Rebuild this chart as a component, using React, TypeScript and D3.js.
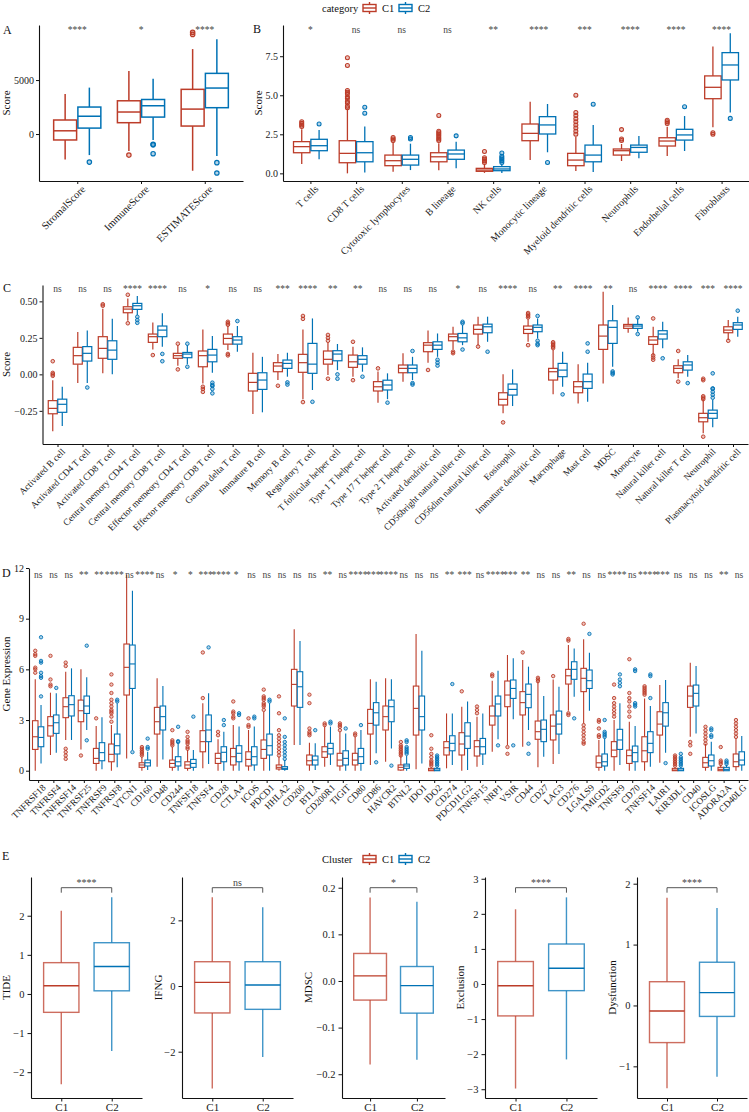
import React, { useRef, useEffect } from 'react'
import * as d3 from 'd3'

const RED = '#BC3C29'
const BLUE = '#0072B5'
const FONT = '"Liberation Serif", "Times New Roman", serif'

// ---------- panel A ----------
const aCats = ['StromalScore', 'ImmuneScore', 'ESTIMATEScore']
const aSig = ['****', '*', '****']
const aC1 = [[-2350, -550, 300, 1300, 3700], [-1570, 1050, 2040, 3080, 5850], [-3400, 740, 2310, 4140, 7870]]
const aC2 = [[-1950, 550, 1650, 2500, 4300], [-560, 1570, 2620, 3200, 5120], [-2040, 2440, 4260, 5620, 8770]]
const aOut1 = [[], [-1950], [9420, 9230]]
const aOut2 = [[-2600], [-950, -1000, -1820], [-2650, -3610]]
const aTicks = [0, 5000]

// ---------- panel B ----------
const bCats = ['T cells', 'CD8 T cells', 'Cytotoxic lymphocytes', 'B lineage', 'NK cells', 'Monocytic lineage',
  'Myeloid dendritic cells', 'Neutrophils', 'Endothelial cells', 'Fibroblasts']
const bSig = ['*', 'ns', 'ns', 'ns', '**', '****', '***', '****', '****', '****']
const bC1 = [[0.6, 1.32, 1.71, 2.03, 2.82], [0.0, 0.68, 1.28, 2.09, 4.1], [0.1, 0.49, 0.81, 1.17, 2.0],
  [0.2, 0.74, 1.06, 1.32, 1.92], [0.03, 0.13, 0.21, 0.32, 0.6], [0.85, 2.09, 2.56, 3.16, 4.59],
  [0.15, 0.49, 0.85, 1.28, 2.35], [0.79, 1.17, 1.45, 1.56, 1.88], [1.11, 1.75, 2.07, 2.28, 2.99],
  [2.95, 4.78, 5.51, 6.24, 8.12]]
const bC2 = [[0.9, 1.45, 1.77, 2.18, 2.78], [0.06, 0.74, 1.32, 2.03, 3.0], [0.21, 0.53, 0.9, 1.17, 1.9],
  [0.32, 0.9, 1.24, 1.49, 2.03], [0.02, 0.17, 0.28, 0.43, 0.55], [1.35, 2.52, 3.1, 3.63, 4.44],
  [0.08, 0.74, 1.17, 1.81, 3.1], [0.96, 1.35, 1.66, 1.81, 2.39], [1.43, 2.13, 2.46, 2.82, 3.67],
  [3.9, 5.98, 6.94, 7.73, 8.97]]
const bOut1 = [[3.0, 3.1, 3.2, 3.3], [4.2, 4.3, 4.5, 4.6, 4.8, 4.9, 5.1, 5.2, 5.3, 6.9, 7.4], [2.1, 2.2, 2.3],
  [2.1, 2.2, 2.3, 2.4, 2.5, 2.6, 2.7, 3.7], [0.7, 0.8, 0.9, 1.0, 1.4], [],
  [2.5, 2.7, 2.9, 3.1, 3.3, 3.5, 3.7, 3.9, 5.0], [2.1, 2.2, 2.8], [3.2, 3.3, 3.4], [2.5, 2.6]]
const bOut2 = [[3.16], [3.85, 4.23], [2.2, 2.3], [2.4], [0.7, 0.8, 0.9, 1.0, 1.1, 1.3], [0.7], [4.42], [], [4.27], [3.52]]
const bTicks = [0, 2.5, 5, 7.5]

// ---------- panel C ----------
const cCats = ['Activated B cell', 'Activated CD4 T cell', 'Activated CD8 T cell', 'Central memory CD4 T cell',
  'Central memory CD8 T cell', 'Effector memeory CD4 T cell', 'Effector memeory CD8 T cell', 'Gamma delta T cell',
  'Immature  B cell', 'Memory B cell', 'Regulatory T cell', 'T follicular helper cell', 'Type 1 T helper cell',
  'Type 17 T helper cell', 'Type 2 T helper cell', 'Activated dendritic cell', 'CD56bright natural killer cell',
  'CD56dim natural killer cell', 'Eosinophil', 'Immature dendritic cell', 'Macrophage', 'Mast cell', 'MDSC',
  'Monocyte', 'Natural killer cell', 'Natural killer T cell', 'Neutrophil', 'Plasmacytoid dendritic cell']
const cSig = ['ns', 'ns', 'ns', '****', '****', 'ns', '*', 'ns', 'ns', '***', '****', '**', '**', 'ns', 'ns', 'ns',
  '*', 'ns', '****', 'ns', '**', '****', '**', 'ns', '****', '****', '***', '****']
const cC1 = [[-0.39, -0.27, -0.233, -0.18, -0.04], [-0.06, 0.07, 0.128, 0.185, 0.29], [0.007, 0.11, 0.178, 0.258, 0.45],
  [0.367, 0.422, 0.447, 0.463, 0.52], [0.171, 0.219, 0.258, 0.276, 0.356], [0.059, 0.11, 0.128, 0.144, 0.2],
  [-0.062, 0.052, 0.128, 0.16, 0.308], [0.166, 0.207, 0.246, 0.276, 0.331], [-0.272, -0.114, -0.055, 0.007, 0.148],
  [-0.039, 0.018, 0.057, 0.08, 0.139], [-0.17, 0.014, 0.08, 0.137, 0.308], [-0.005, 0.07, 0.103, 0.16, 0.217],
  [-0.016, 0.048, 0.086, 0.132, 0.189], [-0.194, -0.114, -0.085, -0.05, 0.02], [-0.05, 0.011, 0.041, 0.064, 0.144],
  [0.08, 0.155, 0.2, 0.217, 0.3], [0.171, 0.23, 0.258, 0.276, 0.326], [0.2, 0.276, 0.308, 0.338, 0.395],
  [-0.267, -0.21, -0.171, -0.126, 0.0], [0.223, 0.28, 0.308, 0.331, 0.377], [-0.137, -0.039, 0.018, 0.041, 0.166],
  [-0.2, -0.126, -0.085, -0.05, 0.07], [-0.062, 0.171, 0.262, 0.338, 0.566], [0.285, 0.315, 0.331, 0.342, 0.39],
  [0.132, 0.205, 0.235, 0.258, 0.326], [-0.027, 0.011, 0.041, 0.059, 0.103], [-0.404, -0.325, -0.297, -0.267, -0.176],
  [0.235, 0.285, 0.303, 0.326, 0.372]]
const cC2 = [[-0.354, -0.26, -0.205, -0.17, -0.085], [-0.06, 0.091, 0.144, 0.19, 0.3], [0.0, 0.103, 0.166, 0.23, 0.38],
  [0.406, 0.445, 0.47, 0.486, 0.536], [0.189, 0.258, 0.303, 0.331, 0.418], [0.07, 0.114, 0.139, 0.15, 0.2],
  [0.011, 0.086, 0.132, 0.171, 0.262], [0.155, 0.207, 0.235, 0.258, 0.331], [-0.26, -0.103, -0.039, 0.011, 0.12],
  [-0.016, 0.041, 0.075, 0.098, 0.148], [-0.107, 0.007, 0.07, 0.212, 0.383], [0.029, 0.093, 0.139, 0.162, 0.208],
  [0.018, 0.07, 0.103, 0.128, 0.185], [-0.17, -0.107, -0.073, -0.04, 0.007], [-0.039, 0.011, 0.041, 0.064, 0.12],
  [0.12, 0.171, 0.2, 0.223, 0.28], [0.2, 0.223, 0.25, 0.28, 0.338], [0.223, 0.285, 0.326, 0.344, 0.395],
  [-0.217, -0.142, -0.103, -0.066, 0.034], [0.246, 0.292, 0.322, 0.338, 0.383], [-0.085, -0.016, 0.029, 0.075, 0.155],
  [-0.188, -0.096, -0.05, 0.002, 0.08], [0.052, 0.212, 0.322, 0.367, 0.475], [0.292, 0.315, 0.331, 0.342, 0.383],
  [0.178, 0.242, 0.276, 0.299, 0.36], [-0.016, 0.029, 0.064, 0.086, 0.132], [-0.363, -0.301, -0.267, -0.245, -0.176],
  [0.258, 0.308, 0.338, 0.354, 0.395]]
const cOut1 = [[0.09, 0.01, 0.0, -0.01], [], [0.47, 0.48], [0.545, 0.35], [0.132], [0.21, 0.034], [-0.085, -0.1, -0.12],
  [0.34, 0.35, 0.36, 0.14, 0.13], [], [-0.078], [0.38, 0.4, -0.19], [0.23, 0.25, 0.27, -0.03], [0.223, -0.04], [0.041],
  [], [0.03], [0.155, 0.145], [0.19], [-0.329], [0.42, 0.41, 0.4, 0.39, 0.2], [0.22, 0.21, 0.2, 0.19, 0.18], [], [],
  [], [0.383, 0.13, 0.115, 0.1], [0.16, -0.05], [-0.15, -0.16, -0.17, -0.427, -0.03, -0.04], [0.23]]
const cOut2 = [[], [-0.09], [], [0.394, 0.372, 0.353], [0.14, 0.09], [0.21, 0.052], [-0.057, -0.073, -0.08, -0.1, -0.13],
  [0.365], [], [-0.055, -0.07], [-0.188], [0.0, -0.03], [-0.016], [-0.194], [0.16, -0.06, -0.07], [0.1, 0.08, 0.06],
  [0.35, 0.36, 0.17], [0.155], [], [0.4, 0.23, 0.21, 0.2], [-0.137], [0.212, 0.155], [0.02, 0.01, 0.0], [0.39, 0.276],
  [0.11], [-0.06], [-0.1, -0.12, -0.14, -0.16, 0.007, -0.096], [0.436]]
const cTicks = [-0.25, 0, 0.25, 0.5]

// ---------- panel D ----------
const dGenes = ['TNFRSF18', 'TNFRSF4', 'TNFRSF14', 'TNFRSF25', 'TNFRSF9', 'TNFRSF8', 'VTCN1', 'CD160', 'CD48', 'CD244',
  'TNFSF18', 'TNFSF4', 'CD28', 'CTLA4', 'ICOS', 'PDCD1', 'HHLA2', 'CD200', 'BTLA', 'CD200R1', 'TIGIT', 'CD80', 'CD86',
  'HAVCR2', 'BTNL2', 'IDO1', 'IDO2', 'CD274', 'PDCD1LG2', 'TNFSF15', 'NRP1', 'VSIR', 'CD44', 'CD27', 'LAG3', 'CD276',
  'LGALS9', 'TMIGD2', 'TNFSF9', 'CD70', 'TNFSF14', 'LAIR1', 'KIR3DL1', 'CD40', 'ICOSLG', 'ADORA2A', 'CD40LG']
const dSig = ['ns', 'ns', 'ns', '**', '**', '****', 'ns', '****', 'ns', '*', '*', '***', '****', '*', 'ns', 'ns', 'ns',
  'ns', 'ns', '**', 'ns', '****', '***', '****', 'ns', 'ns', 'ns', '**', '***', 'ns', '****', '***', '**', 'ns', 'ns',
  '**', 'ns', 'ns', '****', 'ns', '****', '***', 'ns', 'ns', 'ns', '**', 'ns']
const dC1 = [[0, 1.26, 2.01, 2.96, 5.41], [0.93, 2.05, 2.66, 3.2, 4.62], [1.82, 3.14, 3.79, 4.32, 5.86],
  [1.26, 2.9, 3.55, 4.18, 6.0], [0, 0.43, 0.73, 1.32, 2.64], [0, 0.53, 0.97, 1.58, 2.7], [0.73, 4.48, 6.12, 7.5, 11.6],
  [0, 0.2, 0.34, 0.47, 0.83], [0.24, 2.17, 2.9, 3.75, 5.47], [0, 0.2, 0.43, 0.63, 1.42], [0, 0.14, 0.34, 0.53, 1.22],
  [0.14, 1.12, 1.72, 2.37, 3.99], [0, 0.43, 0.73, 1.03, 1.86], [0, 0.34, 0.83, 1.32, 2.7], [0, 0.28, 0.67, 1.12, 2.41],
  [0, 0.73, 1.26, 1.82, 3.49], [0, 0.1, 0.2, 0.34, 0.83], [1.52, 3.83, 5.11, 6.0, 8.37], [0, 0.34, 0.59, 0.93, 1.66],
  [0.24, 0.79, 1.12, 1.42, 2.61], [0, 0.28, 0.63, 1.03, 2.31], [0, 0.34, 0.63, 1.03, 2.01], [0.34, 2.17, 2.8, 3.63, 5.41],
  [0.53, 2.41, 3.2, 3.83, 5.47], [0, 0.04, 0.2, 0.34, 0.87], [0.08, 2.11, 3.69, 5.01, 8.09], [0, 0, 0.04, 0.14, 0.2],
  [0.14, 0.93, 1.36, 1.72, 3.39], [0, 0.93, 1.58, 2.25, 3.79], [0.24, 0.87, 1.42, 1.78, 3.2], [1.12, 2.7, 3.24, 3.83, 5.33],
  [1.52, 3.79, 4.48, 5.31, 6.85], [1.42, 3.3, 4.03, 4.68, 6.55], [0.2, 1.86, 2.31, 2.94, 5.27], [0.39, 1.82, 2.64, 3.3, 5.4],
  [3.55, 5.13, 5.62, 6.0, 7.44], [2.8, 4.68, 5.47, 6.06, 7.78], [0, 0.2, 0.47, 0.87, 1.82], [0, 0.83, 1.22, 1.72, 3.0],
  [0, 0.43, 0.89, 1.22, 2.9], [0, 0.53, 1.18, 2.01, 4.28], [0.47, 2.11, 2.76, 3.49, 5.07], [0, 0, 0.04, 0.14, 0.2],
  [2.01, 3.75, 4.42, 5.01, 6.39], [0, 0.2, 0.47, 0.79, 1.58], [0, 0, 0.08, 0.2, 0.34], [0, 0.24, 0.53, 0.99, 1.91]]
const dC2 = [[0.43, 1.42, 1.97, 2.6, 3.89], [1.07, 2.21, 2.84, 3.3, 4.58], [1.82, 3.24, 3.91, 4.44, 6.06],
  [2.41, 3.39, 3.83, 4.42, 5.53], [0.08, 0.59, 1.07, 1.66, 3.16], [0.2, 0.99, 1.48, 2.17, 3.99], [1.22, 4.87, 6.32, 7.44, 10.66],
  [0.04, 0.28, 0.47, 0.63, 1.12], [0.67, 2.41, 3.2, 3.83, 5.01], [0, 0.28, 0.53, 0.83, 1.62], [0, 0.2, 0.43, 0.67, 1.22],
  [0.39, 1.72, 2.41, 3.3, 4.58], [0, 0.53, 1.09, 1.42, 2.31], [0, 0.53, 1.03, 1.48, 2.61], [0, 0.34, 0.83, 1.42, 2.61],
  [0, 0.93, 1.48, 2.17, 4.0], [0, 0.08, 0.14, 0.24, 0.63], [1.52, 3.75, 4.97, 5.86, 7.68], [0.04, 0.34, 0.63, 0.87, 1.62],
  [0.34, 0.99, 1.32, 1.62, 2.61], [0, 0.34, 0.73, 1.18, 2.21], [0, 0.43, 0.83, 1.32, 2.41], [1.03, 2.7, 3.43, 4.03, 5.27],
  [1.32, 2.9, 3.79, 4.18, 5.41], [0, 0.14, 0.28, 0.39, 0.87], [0.43, 2.41, 3.2, 4.42, 7.1], [0, 0, 0.04, 0.14, 0.24],
  [0.34, 1.18, 1.62, 2.07, 3.39], [0.04, 1.32, 2.05, 2.84, 4.09], [0.34, 0.99, 1.42, 1.91, 3.39], [1.86, 3.24, 3.95, 4.42, 5.92],
  [3.04, 4.28, 4.87, 5.37, 6.65], [2.41, 3.73, 4.52, 5.13, 6.16], [0.83, 1.72, 2.45, 3.0, 4.42], [0.99, 2.17, 2.76, 3.53, 4.97],
  [4.38, 5.41, 6.0, 6.45, 7.24], [3.55, 4.87, 5.33, 5.96, 6.99], [0, 0.28, 0.53, 0.99, 1.91], [0.34, 1.26, 1.82, 2.45, 3.99],
  [0, 0.53, 1.07, 1.46, 2.64], [0.24, 1.07, 1.62, 2.31, 3.83], [1.07, 2.64, 3.43, 4.03, 5.37], [0, 0, 0.04, 0.14, 0.24],
  [2.21, 3.83, 4.58, 5.07, 6.2], [0, 0.28, 0.59, 0.93, 1.72], [0, 0, 0.08, 0.2, 0.34], [0, 0.34, 0.63, 1.12, 2.05]]
const dOut1 = [[5.8, 6.0, 6.1, 6.8, 6.9, 7.1], [5.0, 5.1, 5.4, 6.8], [6.2, 6.4, 1.3, 1.1, 0.9, 0.7], [0.9], [3.1],
  [2.9, 3.2, 3.4, 3.5, 3.6, 3.8, 4.0, 4.2, 4.6, 5.1, 5.7], [], [0.9, 1.0, 1.1, 1.2, 1.3, 1.4], [], [1.5, 1.6, 1.7, 1.8, 2.4],
  [1.3, 1.4, 1.6, 1.7, 1.8, 2.0, 2.3], [4.3, 7.0], [2.1, 2.3], [3.1, 3.2, 3.4, 3.5, 4.1], [2.6, 2.7, 3.1],
  [3.6, 3.8, 3.9, 4.0, 4.2, 4.3, 4.4, 4.8], [0.9, 1.1, 1.3, 1.5, 1.7, 1.9, 2.1, 2.4, 3.4, 4.4], [], [2.1, 2.2, 2.3, 2.5, 4.0, 4.5],
  [2.7, 2.8], [2.4, 2.6, 2.7, 2.8], [2.1, 2.2], [], [], [0.9, 1.0, 1.1, 1.2, 1.3, 1.4, 1.5, 1.7], [],
  [0.3, 0.4, 0.5, 0.6, 0.8, 1.0, 1.3, 2.1], [], [4.7], [3.4, 3.6, 3.8], [5.6, 5.7], [1.4, 1.0], [7.0], [5.3, 5.4, 5.5], [5.6],
  [7.7, 7.8, 3.3, 3.4], [8.7, 2.7, 2.5, 2.3, 2.1, 1.9, 1.7, 1.6], [2.0, 2.1, 2.5, 2.9, 3.0], [3.2, 3.4, 3.6, 3.8, 4.0, 4.3, 5.1],
  [3.2, 3.5, 3.8, 4.1, 4.3, 4.6, 6.6], [4.5, 4.6, 4.7, 4.8, 4.9, 5.0], [], [0.3, 0.4, 0.5, 0.6, 0.7, 0.8, 0.9], [1.7, 1.5, 1.0],
  [1.6, 1.8, 2.0, 2.2, 2.4, 2.6], [0.4, 0.5, 0.6, 1.4], [2.0, 2.2, 2.4, 2.6, 2.8, 3.0]]
const dOut2 = [[4.4, 5.5, 5.6, 5.8, 6.4, 6.5, 7.9], [4.9], [], [7.4, 1.8], [], [4.1, 4.2], [1.1], [1.3, 1.4, 1.9], [],
  [1.7, 1.75, 2.6], [3.2], [7.3], [2.7, 3.0], [3.3, 3.4], [3.1, 3.2], [4.1, 4.2], [0.7, 0.9, 1.1, 1.3, 1.5, 1.7, 2.0, 3.1], [],
  [2.4], [2.8, 2.9], [2.5], [2.7], [0.5], [0.3], [1.0, 1.1, 1.2, 1.3, 1.4, 1.7, 1.8], [], [0.3, 0.4, 0.5, 0.6, 0.7, 0.8, 0.9],
  [5.13], [], [], [1.5], [1.5], [1.6, 1.0], [], [], [3.1], [8.1], [2.0, 2.1, 2.2, 2.3, 3.0], [5.0, 5.2, 5.4, 5.7],
  [3.8, 3.9, 4.0, 5.9, 6.0], [4.3, 5.6, 5.7], [0.45], [0.3, 0.4, 0.5, 0.6, 0.7, 0.8, 1.0], [], [2.0, 2.1, 2.4, 2.5],
  [0.4, 0.5, 0.6], []]
const dTicks = [0, 3, 6, 9, 12]

// ---------- panel E ----------
const eGroups = ['C1', 'C2']
const eTitles = ['TIDE', 'IFNG', 'MDSC', 'Exclusion', 'Dysfunction']
const eSig = ['****', 'ns', '*', '****', '****']
const eC1 = [[-2.31, -0.47, 0.21, 0.8, 2.13], [-3.12, -0.82, 0.11, 0.74, 2.7], [-0.179, -0.041, 0.011, 0.059, 0.179],
  [-2.98, -0.91, -0.05, 0.64, 2.13], [-1.36, -0.61, -0.09, 0.39, 1.77]]
const eC2 = [[-1.46, 0.08, 0.7, 1.31, 2.47], [-2.16, -0.71, 0.03, 0.74, 2.4], [-0.169, -0.069, -0.01, 0.031, 0.17],
  [-2.15, -0.19, 0.45, 1.14, 2.47], [-1.17, -0.18, 0.21, 0.71, 1.6]]
const eTicks = [[-2, -1, 0, 1, 2], [-2, 0, 2], [-0.2, -0.1, 0, 0.1, 0.2], [-3, -2, -1, 0, 1, 2, 3], [-1, 0, 1, 2]]

// scale settings for E panels
const eAxes = [
  { ax: 31, right: 142, domain: [-2.66, 2.99], fmt: d3.format('d'), tx: 10 },
  { ax: 182, right: 293, domain: [-3.41, 3.32], fmt: d3.format('d'), tx: 161.5 },
  { ax: 342, right: 445, domain: [-0.251, 0.223], fmt: d3.format('.1f'), tx: 312 },
  { ax: 485, right: 597, domain: [-3.25, 3.05], fmt: d3.format('d'), tx: 464 },
  { ax: 637, right: 747, domain: [-1.52, 2.11], fmt: d3.format('d'), tx: 615.5 },
]

function styleAxis(g: any, size: number) {
  g.attr('font-family', FONT)
  g.selectAll('text').attr('fill', '#1a1a1a').attr('font-size', size)
  g.select('.domain').attr('stroke', '#111').attr('stroke-width', 1.1)
  g.selectAll('.tick line').attr('stroke', '#111').attr('stroke-width', 1)
}

function Box({ cx, w, s, out, y, color, lw, r, op = 1 }: any) {
  const [lo, q1, md, q3, hi] = s
  return (
    <g stroke={color} strokeWidth={lw} fill="none">
      <g strokeOpacity={op}>
        <line x1={cx} x2={cx} y1={y(hi)} y2={y(q3)} />
        <line x1={cx} x2={cx} y1={y(q1)} y2={y(lo)} />
        <rect x={cx - w / 2} y={y(q3)} width={w} height={Math.max(0.5, y(q1) - y(q3))} fill="white" />
      </g>
      <line x1={cx - w / 2} x2={cx + w / 2} y1={y(md)} y2={y(md)} />
      {out.map((v: number, i: number) => (
        <circle key={i} cx={cx} cy={y(v)} r={r} fill={color} fillOpacity={0.3} strokeWidth={lw * 0.8} />
      ))}
    </g>
  )
}

function BoxPanel(p: any) {
  const xRef = useRef<SVGGElement>(null)
  const yRef = useRef<SVGGElement>(null)
  const x = d3.scalePoint<string>().domain(p.cats).range([p.x0, p.x1]).padding(0.6)
  const y = d3.scaleLinear().domain(p.domain).range([p.bottom, p.top])
  const step = x.step()
  const off = step * 0.19
  const bw = step * 0.36

  useEffect(() => {
    const gy = d3.select(yRef.current)
    gy.call(d3.axisLeft(y).tickValues(p.ticks).tickFormat(p.fmt).tickSize(3).tickSizeOuter(0).tickPadding(2) as any)
    styleAxis(gy, 10)
    const gx = d3.select(xRef.current)
    gx.call(d3.axisBottom(x).tickSize(3).tickSizeOuter(0) as any)
    styleAxis(gx, p.labelSize)
    gx.selectAll('text').attr('x', 0).attr('y', 0).attr('dy', '0.72em')
      .attr('transform', 'translate(3,3.5) rotate(-45)').style('text-anchor', 'end')
  }, [])

  const midY = (p.top + p.bottom) / 2
  return (
    <g>
      {p.cats.map((c: string, i: number) => {
        const cx = x(c) as number
        return (
          <g key={c}>
            <Box cx={cx - off} w={bw} s={p.c1[i]} out={p.out1[i]} y={y} color={RED} lw={p.lw} r={p.r} />
            <Box cx={cx + off} w={bw} s={p.c2[i]} out={p.out2[i]} y={y} color={BLUE} lw={p.lw} r={p.r} />
            <text x={cx} y={p.sigY} textAnchor="middle" fontSize={9.5} fontFamily={FONT} fill="#444">{p.sig[i]}</text>
          </g>
        )
      })}
      <g ref={yRef} transform={`translate(${p.x0},0)`} />
      <g ref={xRef} transform={`translate(0,${p.bottom})`} />
      <text transform={`translate(${p.titleX},${midY}) rotate(-90)`} textAnchor="middle" fontSize={11}
        fontFamily={FONT} fill="#111">{p.title}</text>
      <text x={p.letter[0]} y={p.letter[1]} fontSize={12} fontFamily={FONT} fill="#111">{p.letter[2]}</text>
    </g>
  )
}

function EPanel({ i }: { i: number }) {
  const xRef = useRef<SVGGElement>(null)
  const yRef = useRef<SVGGElement>(null)
  const cfg = eAxes[i]
  const top = 877, bottom = 1098
  const x = d3.scalePoint<string>().domain(eGroups).range([cfg.ax, cfg.right]).padding(0.6)
  const y = d3.scaleLinear().domain(cfg.domain).range([bottom, top])
  const bw = x.step() * 0.7

  useEffect(() => {
    const gy = d3.select(yRef.current)
    gy.call(d3.axisLeft(y).tickValues(eTicks[i]).tickFormat(cfg.fmt as any).tickSize(3.5).tickSizeOuter(0).tickPadding(3) as any)
    styleAxis(gy, 10.5)
    const gx = d3.select(xRef.current)
    gx.call(d3.axisBottom(x).tickSize(3.5).tickSizeOuter(0).tickPadding(2) as any)
    styleAxis(gx, 11)
  }, [])

  const x1 = x('C1') as number, x2 = x('C2') as number
  const by = 887.7
  return (
    <g>
      <Box cx={x1} w={bw} s={eC1[i]} out={[]} y={y} color={RED} lw={1.4} r={2} op={0.75} />
      <Box cx={x2} w={bw} s={eC2[i]} out={[]} y={y} color={BLUE} lw={1.4} r={2} op={0.75} />
      <path d={`M${x1},${by + 5}V${by}H${x2}V${by + 5}`} fill="none" stroke="#555" strokeWidth={1} />
      <text x={(x1 + x2) / 2} y={by - 2} textAnchor="middle" fontSize={10} fontFamily={FONT} fill="#444">{eSig[i]}</text>
      <g ref={yRef} transform={`translate(${cfg.ax},0)`} />
      <g ref={xRef} transform={`translate(0,${bottom})`} />
      <text transform={`translate(${cfg.tx},${(top + bottom) / 2}) rotate(-90)`} textAnchor="middle" fontSize={11}
        fontFamily={FONT} fill="#111">{eTitles[i]}</text>
    </g>
  )
}

function LegendIcon({ x, y, color }: any) {
  return (
    <g stroke={color} strokeWidth={1.4} fill="white">
      <line x1={x + 6.5} x2={x + 6.5} y1={y} y2={y + 12} />
      <rect x={x} y={y + 2.5} width={13} height={7} />
      <line x1={x} x2={x + 13} y1={y + 6} y2={y + 6} />
    </g>
  )
}

function Legend({ y, title }: any) {
  return (
    <g fontFamily={FONT} fontSize={10.5} fill="#111">
      <text x={322} y={y + 9.5}>{title}</text>
      <LegendIcon x={363} y={y} color={RED} />
      <text x={382} y={y + 9.5}>C1</text>
      <LegendIcon x={399} y={y} color={BLUE} />
      <text x={418} y={y + 9.5}>C2</text>
    </g>
  )
}

export default function App() {
  return (
    <svg width={749} height={1112} style={{ position: 'absolute', left: 0, top: 0, background: 'white' }}>
      <Legend y={2} title="category" />
      <BoxPanel cats={aCats} sig={aSig} c1={aC1} c2={aC2} out1={aOut1} out2={aOut2} x0={39} x1={243} top={25}
        bottom={181} domain={[-4350, 10100]} ticks={aTicks} fmt={d3.format('d')} title="Score" titleX={10}
        labelSize={10.5} lw={1.5} r={2.2} sigY={33} letter={[3, 34, 'A']} />
      <BoxPanel cats={bCats} sig={bSig} c1={bC1} c2={bC2} out1={bOut1} out2={bOut2} x0={283} x1={749} top={25}
        bottom={181} domain={[-0.49, 9.5]} ticks={bTicks} fmt={d3.format('.1f')} title="Score" titleX={262}
        labelSize={10} lw={1.3} r={2} sigY={33} letter={[253, 33, 'B']} />
      <BoxPanel cats={cCats} sig={cSig} c1={cC1} c2={cC2} out1={cOut1} out2={cOut2} x0={42.5} x1={748} top={285}
        bottom={444} domain={[-0.477, 0.612]} ticks={cTicks} fmt={d3.format('.2f')} title="Score" titleX={10}
        labelSize={9.4} lw={1.2} r={1.8} sigY={292} letter={[3, 292, 'C']} />
      <BoxPanel cats={dGenes} sig={dSig} c1={dC1} c2={dC2} out1={dOut1} out2={dOut2} x0={29} x1={748} top={568}
        bottom={780} domain={[-0.55, 12.0]} ticks={dTicks} fmt={d3.format('d')} title="Gene Expression" titleX={10}
        labelSize={9.4} lw={1.1} r={1.7} sigY={578} letter={[2, 577, 'D']} />
      <text x={2} y={860} fontSize={12} fontFamily={FONT} fill="#111">E</text>
      <Legend y={853} title="Cluster" />
      {eTitles.map((t, i) => <EPanel key={t} i={i} />)}
    </svg>
  )
}
